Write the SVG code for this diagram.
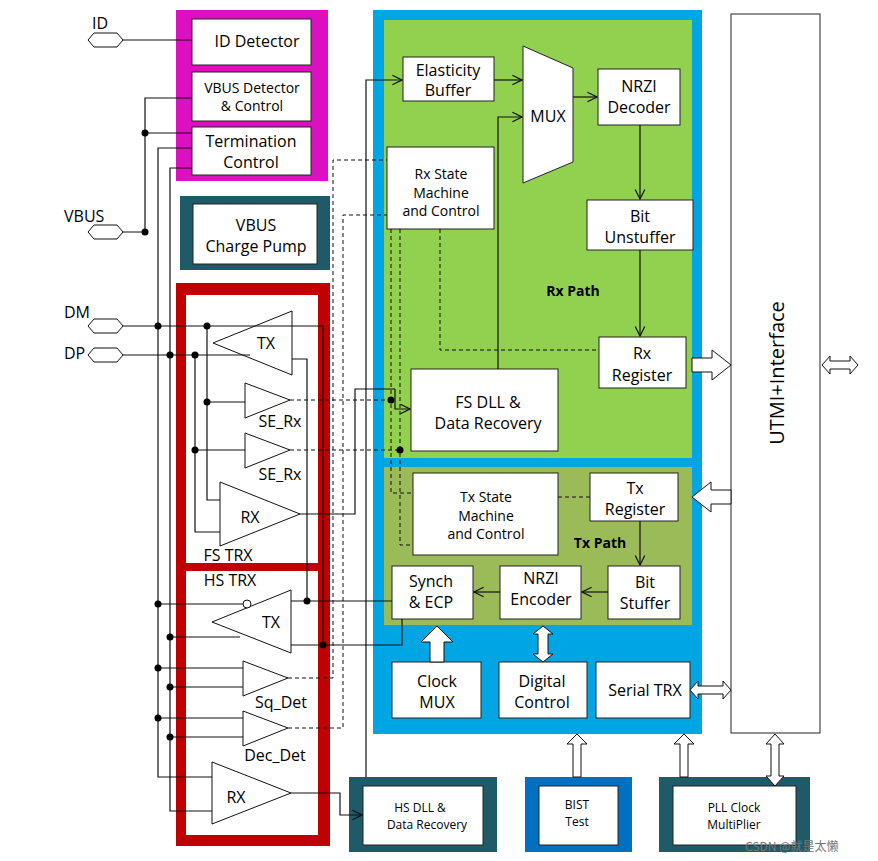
<svg xmlns="http://www.w3.org/2000/svg" width="878" height="861" viewBox="0 0 878 861">
<defs>
<style>
text{font-family:"Open Sans","Liberation Sans","Noto Sans CJK SC",sans-serif;fill:#000}
.b{fill:#fff;stroke:#222;stroke-width:1}
.t{font-size:16px;text-anchor:middle}
.s{font-size:12px;text-anchor:middle}
.w{fill:none;stroke:#111;stroke-width:1.2}
.d{fill:none;stroke:#111;stroke-width:1;stroke-dasharray:4,3}
.tri{fill:#fff;stroke:#111;stroke-width:1}
.hol{fill:#fff;stroke:#111;stroke-width:1}
</style>
<marker id="a" markerWidth="10" markerHeight="10" refX="9" refY="5" orient="auto"><path d="M1,1 L9,5 L1,9" fill="none" stroke="#111"/></marker>
</defs>
<rect width="878" height="861" fill="#fff"/>
<g id="magenta"><rect x="176" y="10" width="152" height="171" fill="#dc10c0"/></g>
<g id="id-detector"><rect class="b" x="192" y="19" width="119" height="46"/><text class="t" x="257" y="47">ID Detector</text></g>
<g id="vbus-detector"><rect class="b" x="192" y="72" width="119" height="49"/><text class="t" x="252" y="93" style="font-size:14px">VBUS Detector</text><text class="t" x="252" y="111" style="font-size:14px">&amp; Control</text></g>
<g id="termination"><rect class="b" x="192" y="127" width="119" height="48"/><text class="t" x="251" y="147">Termination</text><text class="t" x="251" y="168">Control</text></g>
<g id="charge-pump"><rect x="180" y="196" width="150" height="74" fill="#1f5a68"/><rect class="b" x="193" y="204" width="124" height="60"/><text class="t" x="256" y="231">VBUS</text><text class="t" x="256" y="252">Charge Pump</text></g>
<g id="trx"><rect x="176" y="283" width="154" height="563" fill="#c00000"/><rect x="186" y="295" width="132" height="268" fill="#fff"/><rect x="186" y="571" width="132" height="264" fill="#fff"/>
<text class="t" x="228" y="561">FS TRX</text><text class="t" x="230" y="586">HS TRX</text></g>
<g id="blue"><rect x="373" y="10" width="329" height="724" fill="#00a6e4"/><rect x="384" y="20" width="308" height="438" fill="#92d050"/><rect x="384" y="467" width="308" height="158" fill="#9bbb59"/>
<text x="573" y="296" style="font-size:14px;font-weight:bold;text-anchor:middle">Rx Path</text><text x="600" y="548" style="font-size:14px;font-weight:bold;text-anchor:middle">Tx Path</text></g>
<g id="elasticity"><rect class="b" x="403" y="57" width="91" height="44"/><text class="t" x="448" y="76">Elasticity</text><text class="t" x="448" y="96">Buffer</text></g>
<g id="mux"><path d="M523,46 L573,68 L573,162 L523,183 Z" class="b"/><text class="t" x="548" y="122">MUX</text></g>
<g id="nrzi-dec"><rect class="b" x="598" y="69" width="82" height="56"/><text class="t" x="639" y="92">NRZI</text><text class="t" x="639" y="113">Decoder</text></g>
<g id="rx-sm"><rect class="b" x="387" y="147" width="107" height="82"/><text class="t" x="441" y="179" style="font-size:14px">Rx State</text><text class="t" x="441" y="198" style="font-size:14px">Machine</text><text class="t" x="441" y="216" style="font-size:14px">and Control</text></g>
<g id="bit-unstuffer"><rect class="b" x="587" y="200" width="106" height="50"/><text class="t" x="640" y="222">Bit</text><text class="t" x="640" y="243">Unstuffer</text></g>
<g id="rx-register"><rect class="b" x="599" y="337" width="87" height="51"/><text class="t" x="642" y="359">Rx</text><text class="t" x="642" y="381">Register</text></g>
<g id="fs-dll"><rect class="b" x="411" y="369" width="147" height="82"/><text class="t" x="488" y="408">FS DLL &amp;</text><text class="t" x="488" y="429">Data Recovery</text></g>
<g id="tx-sm"><rect class="b" x="413" y="473" width="145" height="82"/><text class="t" x="486" y="502" style="font-size:14px">Tx State</text><text class="t" x="486" y="521" style="font-size:14px">Machine</text><text class="t" x="486" y="539" style="font-size:14px">and Control</text></g>
<g id="tx-register"><rect class="b" x="590" y="473" width="88" height="48"/><text class="t" x="635" y="494">Tx</text><text class="t" x="635" y="515">Register</text></g>
<g id="synch"><rect class="b" x="392" y="566" width="81" height="53"/><text class="t" x="431" y="587">Synch</text><text class="t" x="431" y="608">&amp; ECP</text></g>
<g id="nrzi-enc"><rect class="b" x="500" y="566" width="81" height="53"/><text class="t" x="541" y="584">NRZI</text><text class="t" x="541" y="605">Encoder</text></g>
<g id="bit-stuffer"><rect class="b" x="608" y="566" width="72" height="53"/><text class="t" x="645" y="588">Bit</text><text class="t" x="645" y="609">Stuffer</text></g>
<g id="clock-mux"><rect class="b" x="392" y="662" width="89" height="56"/><text class="t" x="437" y="687">Clock</text><text class="t" x="437" y="708">MUX</text></g>
<g id="digital"><rect class="b" x="499" y="662" width="88" height="56"/><text class="t" x="542" y="687">Digital</text><text class="t" x="542" y="708">Control</text></g>
<g id="serial"><rect class="b" x="596" y="662" width="94" height="56"/><text class="t" x="645" y="696">Serial TRX</text></g>
<g id="utmi"><rect class="b" x="731" y="14" width="89" height="719"/><text class="t" x="0" y="0" transform="translate(784,373) rotate(-90)" style="font-size:20px">UTMI+Interface</text></g>
<g id="hs-dll"><rect x="349" y="777" width="148" height="75" fill="#1f5a68"/><rect class="b" x="363" y="786" width="120" height="59"/><text class="s" x="420" y="812">HS DLL &amp;</text><text class="s" x="427" y="829">Data Recovery</text></g>
<g id="bist"><rect x="525" y="777" width="107" height="75" fill="#0070c0"/><rect class="b" x="539" y="786" width="79" height="59"/><text class="s" x="577" y="809">BIST</text><text class="s" x="577" y="826">Test</text></g>
<g id="pll"><rect x="659" y="777" width="151" height="75" fill="#1f5a68"/><rect class="b" x="673" y="786" width="123" height="59"/><text class="s" x="734" y="812">PLL Clock</text><text class="s" x="734" y="829">MultiPlier</text></g>
<g id="ports" style="font-size:16px">
<path class="hol" d="M88,40 L94,33 L117,33 L123,40 L117,47 L94,47 Z"/><text x="92" y="29">ID</text>
<path class="hol" d="M88,232 L94,225 L117,225 L123,232 L117,239 L94,239 Z"/><text x="64" y="222">VBUS</text>
<path class="hol" d="M88,326 L94,319 L117,319 L123,326 L117,333 L94,333 Z"/><text x="64" y="318">DM</text>
<path class="hol" d="M88,355 L94,348 L117,348 L123,355 L117,362 L94,362 Z"/><text x="64" y="359">DP</text>
</g>
<g id="amps">
<path class="tri" d="M213,343 L292,311 L292,375 Z"/><text class="t" x="266" y="349">TX</text>
<path class="tri" d="M245,383 L290,400 L245,418 Z"/><text class="t" x="280" y="427">SE_Rx</text>
<path class="tri" d="M245,433 L290,450 L245,468 Z"/><text class="t" x="280" y="480">SE_Rx</text>
<path class="tri" d="M220,482 L300,514 L220,546 Z"/><text class="t" x="250" y="523">RX</text>
<path class="tri" d="M212,622 L291,590 L291,653 Z"/><circle cx="247" cy="604" r="4" fill="#fff" stroke="#111"/><text class="t" x="271" y="628">TX</text>
<path class="tri" d="M243,661 L288,678 L243,696 Z"/><text class="t" x="281" y="708">Sq_Det</text>
<path class="tri" d="M243,711 L288,728 L243,746 Z"/><text class="t" x="275" y="761">Dec_Det</text>
<path class="tri" d="M212,762 L291,793 L212,824 Z"/><text class="t" x="236" y="803">RX</text>
</g>
<g id="connectors">
<path class="w" d="M123,40 H192"/>
<path class="w" d="M192,98 H145 V232 M123,232 H145 M145,133 H192"/>
<path class="w" d="M192,148 H158 V777 H212 M192,168 H170 V811 H212"/>
<path class="w" d="M123,326 H323 V645 M123,355 H250 M292,359 H307 V601"/>
<path class="w" d="M207,326 V500 H220 M207,402 H245 M195,355 V532 H220 M195,450 H245"/>
<path class="w" d="M158,604 H243 M170,637 H240 M158,668 H243 M170,687 H243 M158,718 H243 M170,737 H243"/>
<path class="w" d="M291,601 H392 M291,645 H402 V619"/>
<path class="w" d="M300,514 H355 V389 H395" /><path class="w" d="M395,389 V409 H410" marker-end="url(#a)"/>
<path class="w" d="M291,793 H340 V815 H362" marker-end="url(#a)"/>
<path class="w" d="M366,777 V80 H402" marker-end="url(#a)"/>
<path class="w" d="M494,80 H522" marker-end="url(#a)"/>
<path class="w" d="M573,97 H597" marker-end="url(#a)"/>
<path class="w" d="M498,369 V117 H522" marker-end="url(#a)"/>
<path class="w" d="M640,125 V199" marker-end="url(#a)"/>
<path class="w" d="M640,250 V336" marker-end="url(#a)"/>
<path class="w" d="M640,521 V565" marker-end="url(#a)"/>
<path class="w" d="M608,592 H582" marker-end="url(#a)"/>
<path class="w" d="M500,592 H474" marker-end="url(#a)"/>
<path class="d" d="M290,400 H391 M290,450 H400"/>
<path class="d" d="M288,678 H333 V160 H387 M288,728 H343 V215 H387"/>
<path class="d" d="M391,229 V493 H413 M400,229 V545 H413"/>
<path class="d" d="M440,229 V350 H599 M558,497 H590"/>
<g fill="#000">
<circle cx="145" cy="133" r="3.5"/><circle cx="145" cy="232" r="3.5"/>
<circle cx="158" cy="326" r="3.5"/><circle cx="207" cy="326" r="3.5"/>
<circle cx="170" cy="355" r="3.5"/><circle cx="195" cy="355" r="3.5"/>
<circle cx="207" cy="402" r="3.5"/><circle cx="195" cy="450" r="3.5"/>
<circle cx="391" cy="400" r="3.5"/><circle cx="400" cy="450" r="3.5"/>
<circle cx="158" cy="604" r="3.5"/><circle cx="170" cy="637" r="3.5"/><circle cx="158" cy="668" r="3.5"/><circle cx="170" cy="687" r="3.5"/><circle cx="158" cy="718" r="3.5"/><circle cx="170" cy="737" r="3.5"/>
<circle cx="307" cy="601" r="3.5"/><circle cx="323" cy="645" r="3.5"/>
</g>
<path class="hol" d="M692,358 H712 V350 L731,365 L712,380 V372 H692 Z"/>
<path class="hol" d="M731,490 H711 V482 L692,497 L711,512 V504 H731 Z"/>
<path class="hol" d="M430,662 V642 H421 L437,626 L453,642 H444 V662 Z"/>
<path class="hol" d="M538,634 H533 L543,626 L553,634 H548 V654 H553 L543,662 L533,654 H538 Z"/>
<path class="hol" d="M698,686 V681 L690,690 L698,699 V694 H723 V699 L731,690 L723,681 V686 Z"/>
<path class="hol" d="M830,361 V356 L822,365 L830,374 V369 H850 V374 L858,365 L850,356 V361 Z"/>
<path class="hol" d="M573,777 V744 H567 L577,734 L587,744 H581 V777 Z"/>
<path class="hol" d="M680,777 V744 H674 L684,734 L694,744 H688 V777 Z"/>
<path class="hol" d="M771,744 H766 L775,734 L784,744 H779 V776 H784 L775,786 L766,776 H771 Z"/>
</g>
<text x="745" y="851" style="font-size:12px;fill:#777;font-family:'Noto Sans CJK SC',sans-serif">CSDN @就是太懒</text>
</svg>
